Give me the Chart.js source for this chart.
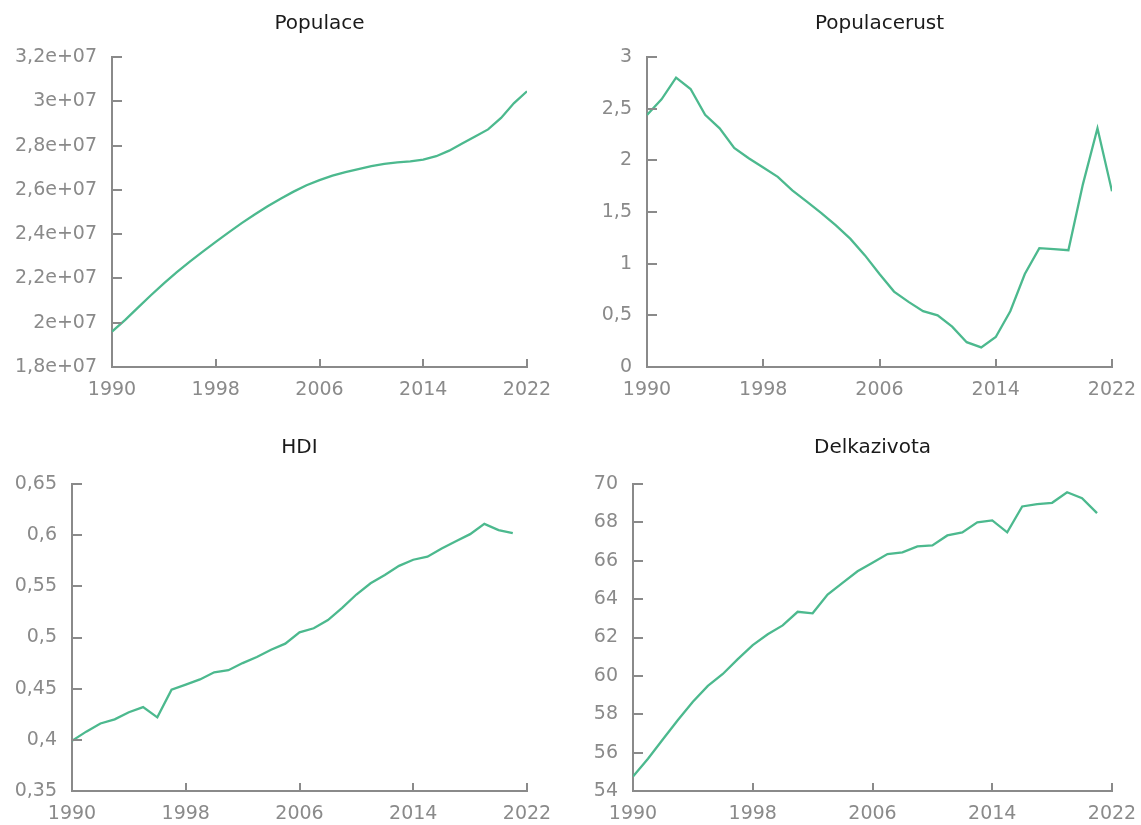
<!DOCTYPE html>
<html>
<head>
<meta charset="utf-8">
<script src="https://cdn.jsdelivr.net/npm/chart.js@4/dist/chart.umd.min.js"></script>
<style>
  html, body { margin: 0; padding: 0; background: #ffffff; }
  body { width: 1141px; height: 825px; position: relative; overflow: hidden; }
  canvas { position: absolute; }
</style>
</head>
<body>
<canvas id="c1" width="570" height="412" style="left:0px;top:0px"></canvas>
<canvas id="c2" width="571" height="412" style="left:570px;top:0px"></canvas>
<canvas id="c3" width="570" height="413" style="left:0px;top:412px"></canvas>
<canvas id="c4" width="571" height="413" style="left:570px;top:412px"></canvas>
<script>
const years = [1990, 1991, 1992, 1993, 1994, 1995, 1996, 1997, 1998, 1999, 2000, 2001, 2002, 2003, 2004, 2005, 2006, 2007, 2008, 2009, 2010, 2011, 2012, 2013, 2014, 2015, 2016, 2017, 2018, 2019, 2020, 2021, 2022];

const populace = [19600000, 20120000, 20680000, 21240000, 21780000, 22280000, 22760000, 23210000, 23650000, 24080000, 24500000, 24890000, 25260000, 25600000, 25920000, 26210000, 26440000, 26640000, 26800000, 26940000, 27070000, 27170000, 27240000, 27290000, 27370000, 27520000, 27770000, 28090000, 28410000, 28730000, 29250000, 29920000, 30450000];

const populaceRust = [2.44, 2.59, 2.80, 2.69, 2.44, 2.31, 2.12, 2.02, 1.93, 1.84, 1.71, 1.60, 1.49, 1.37, 1.24, 1.08, 0.90, 0.73, 0.63, 0.54, 0.50, 0.39, 0.24, 0.19, 0.29, 0.54, 0.90, 1.15, 1.14, 1.13, 1.77, 2.31, 1.70];

const hdi = [0.399, 0.408, 0.416, 0.420, 0.427, 0.432, 0.422, 0.449, 0.454, 0.459, 0.466, 0.468, 0.475, 0.481, 0.488, 0.494, 0.505, 0.509, 0.517, 0.529, 0.542, 0.553, 0.561, 0.570, 0.576, 0.579, 0.587, 0.594, 0.601, 0.611, 0.605, 0.602];

const delkaZivota = [54.75, 55.68, 56.70, 57.70, 58.65, 59.48, 60.10, 60.87, 61.60, 62.17, 62.63, 63.34, 63.26, 64.24, 64.85, 65.45, 65.89, 66.35, 66.44, 66.75, 66.80, 67.32, 67.48, 68.00, 68.10, 67.48, 68.83, 68.95, 69.02, 69.57, 69.26, 68.48];

const titles = ["Populace", "Populacerust", "HDI", "Delkazivota"];
const xTicks = [1990, 1998, 2006, 2014, 2022];

const LINE = '#4cb98e';
const AXIS = '#8a8a8a';
const TICKTXT = '#8a8a8a';
const FONT = "'DejaVu Sans', Verdana, sans-serif";

function fmtSci(v) {
  const s = Number(v).toExponential();
  let [m, e] = s.split('e');
  m = String(parseFloat(parseFloat(m).toPrecision(6))).replace('.', ',');
  const sign = e[0] === '-' ? '-' : '+';
  let ex = e.replace(/^[+-]/, '');
  if (ex.length < 2) ex = '0' + ex;
  return m + 'e' + sign + ex;
}
function fmtDec(v) {
  return String(parseFloat(Number(v).toPrecision(8))).replace('.', ',');
}

// inward tick marks, placed through the chart's own scales
const innerTicks = {
  id: 'innerTicks',
  afterDraw(chart) {
    const ctx = chart.ctx;
    const area = chart.chartArea;
    const xs = chart.scales.x, ys = chart.scales.y;
    ctx.save();
    ctx.strokeStyle = AXIS;
    ctx.lineWidth = 2;
    ctx.beginPath();
    xs.ticks.forEach(t => {
      const px = Math.round(xs.getPixelForValue(t.value));
      ctx.moveTo(px, area.bottom);
      ctx.lineTo(px, area.bottom - 8);
    });
    ys.ticks.forEach(t => {
      const py = Math.round(ys.getPixelForValue(t.value));
      ctx.moveTo(area.left, py);
      ctx.lineTo(area.left + 10, py);
    });
    ctx.stroke();
    ctx.restore();
  }
};

function makeChart(id, cfg) {
  const data = cfg.values.map((v, i) => ({ x: years[i], y: v }));
  return new Chart(document.getElementById(id), {
    type: 'line',
    data: {
      datasets: [{
        data: data,
        borderColor: LINE,
        borderWidth: 2.3,
        pointRadius: 0,
        tension: 0,
        fill: false
      }]
    },
    plugins: [innerTicks],
    options: {
      responsive: false,
      animation: false,
      events: [],
      layout: { padding: { top: 0, right: cfg.padRight, bottom: 0, left: 0 } },
      plugins: {
        legend: { display: false },
        tooltip: { enabled: false },
        title: {
          display: true,
          text: cfg.title,
          fullSize: false,
          color: '#1a1a1a',
          font: { family: FONT, size: 20, weight: 'normal' },
          padding: { top: cfg.titleTop, bottom: cfg.titleBottom }
        }
      },
      scales: {
        x: {
          type: 'linear',
          min: 1990,
          max: 2022,
          afterFit: (s) => { s.height = cfg.xHeight; s.paddingLeft = 0; s.paddingRight = 0; },
          afterBuildTicks: (s) => { s.ticks = xTicks.map(v => ({ value: v })); },
          border: { display: true, color: AXIS, width: 2 },
          grid: { display: false, drawTicks: false },
          ticks: {
            color: TICKTXT,
            font: { family: FONT, size: 19 },
            padding: 12,
            maxRotation: 0,
            autoSkip: false,
            callback: (v) => String(v)
          }
        },
        y: {
          type: 'linear',
          min: cfg.yMin,
          max: cfg.yMax,
          afterFit: (s) => { s.width = cfg.yWidth; s.paddingTop = 0; s.paddingBottom = 0; },
          border: { display: true, color: AXIS, width: 2 },
          grid: { display: false, drawTicks: false },
          ticks: {
            stepSize: cfg.step,
            color: TICKTXT,
            font: { family: FONT, size: 19 },
            padding: 15,
            autoSkip: false,
            callback: cfg.fmt
          }
        }
      }
    }
  });
}

makeChart('c1', { title: titles[0], values: populace, yMin: 18000000, yMax: 32000000, step: 2000000, fmt: fmtSci,
  yWidth: 112, padRight: 43, xHeight: 45, titleTop: 12, titleBottom: 21 });
makeChart('c2', { title: titles[1], values: populaceRust, yMin: 0, yMax: 3, step: 0.5, fmt: fmtDec,
  yWidth: 77, padRight: 29, xHeight: 45, titleTop: 12, titleBottom: 21 });
makeChart('c3', { title: titles[2], values: hdi, yMin: 0.35, yMax: 0.65, step: 0.05, fmt: fmtDec,
  yWidth: 72, padRight: 43, xHeight: 34, titleTop: 24, titleBottom: 24 });
makeChart('c4', { title: titles[3], values: delkaZivota, yMin: 54, yMax: 70, step: 2, fmt: fmtDec,
  yWidth: 63, padRight: 29, xHeight: 34, titleTop: 24, titleBottom: 24 });
</script>
</body>
</html>
